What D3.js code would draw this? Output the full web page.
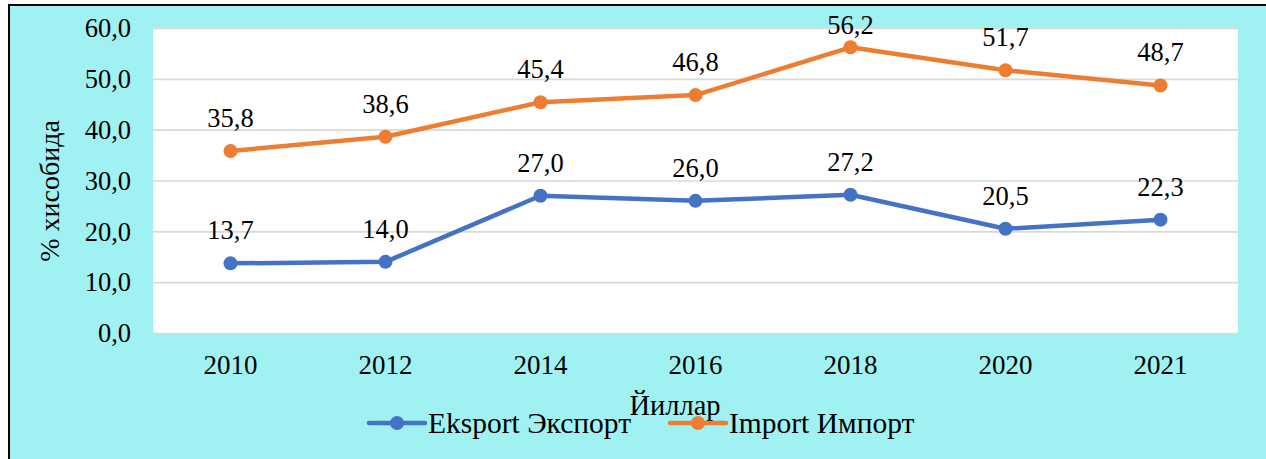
<!DOCTYPE html>
<html>
<head>
<meta charset="utf-8">
<script src="https://cdn.jsdelivr.net/npm/d3@7"></script>
<style>
  html, body { margin: 0; padding: 0; background: #fff; }
  svg { display: block; }
</style>
</head>
<body>
<div id="chart"></div>
<script>
const years = ['2010', '2012', '2014', '2016', '2018', '2020', '2021'];
const eksport = [13.7, 14.0, 27.0, 26.0, 27.2, 20.5, 22.3];
const importVals = [35.8, 38.6, 45.4, 46.8, 56.2, 51.7, 48.7];
const yTicks = [0, 10, 20, 30, 40, 50, 60];
const seriesNames = ['Eksport Экспорт', 'Import Импорт'];
const seriesColors = ['#4472C4', '#ED7D31'];

const W = 1266, H = 459;
const plot = { left: 153, right: 1238, top: 28, bottom: 333 };
const FONT = "'Liberation Serif', 'Times New Roman', serif";

const locale = d3.formatLocale({ decimal: ',', thousands: ' ', grouping: [3], currency: ['', ''] });
const fmt = locale.format('.1f');

const svg = d3.select('#chart')
    .append('svg')
    .attr('width', W)
    .attr('height', H)
    .style('font-family', FONT);

// chart frame
svg.append('rect')
    .attr('x', 9).attr('y', 5)
    .attr('width', W).attr('height', H)
    .attr('fill', '#A0F2F2')
    .attr('stroke', '#000')
    .attr('stroke-width', 2);

// plot area
svg.append('rect')
    .attr('x', plot.left).attr('y', plot.top)
    .attr('width', plot.right - plot.left)
    .attr('height', plot.bottom - plot.top)
    .attr('fill', '#fff');

const x = d3.scaleBand()
    .domain(years)
    .range([plot.left, plot.right]);

const y = d3.scaleLinear()
    .domain([0, 60])
    .range([plot.bottom, plot.top]);

// gridlines + y labels
const yAxis = svg.append('g')
    .attr('transform', `translate(${plot.left},0)`)
    .call(d3.axisLeft(y).tickValues(yTicks).tickFormat(fmt)
        .tickSize(-(plot.right - plot.left)).tickPadding(22));
yAxis.attr('font-family', null);
yAxis.select('.domain').remove();
yAxis.selectAll('line')
    .attr('stroke', '#D9D9D9')
    .attr('stroke-width', 1.6);
yAxis.selectAll('text')
    .style('font-family', FONT)
    .style('font-size', '26.5px')
    .attr('fill', '#000')
    .attr('dy', '0.33em');

// x labels
const xAxis = svg.append('g')
    .attr('transform', `translate(0,${plot.bottom})`)
    .call(d3.axisBottom(x).tickSize(0).tickPadding(22));
xAxis.attr('font-family', null);
xAxis.select('.domain').remove();
xAxis.selectAll('text')
    .style('font-family', FONT)
    .style('font-size', '27px')
    .attr('fill', '#000');

// axis titles
svg.append('text')
    .attr('transform', `translate(59,191) rotate(-90)`)
    .attr('text-anchor', 'middle')
    .style('font-family', FONT)
    .style('font-size', '28px')
    .text('% хисобида');

svg.append('text')
    .attr('x', 675).attr('y', 415)
    .attr('text-anchor', 'middle')
    .style('font-family', FONT)
    .style('font-size', '28.5px')
    .text('Йиллар');

// series
const line = d3.line()
    .x((d, i) => x(years[i]) + x.bandwidth() / 2)
    .y(d => y(d));

[eksport, importVals].forEach((vals, s) => {
    const g = svg.append('g');
    g.append('path')
        .datum(vals)
        .attr('d', line)
        .attr('fill', 'none')
        .attr('stroke', seriesColors[s])
        .attr('stroke-width', 4.5)
        .attr('stroke-linejoin', 'round');

    g.selectAll('circle')
        .data(vals)
        .join('circle')
        .attr('cx', (d, i) => x(years[i]) + x.bandwidth() / 2)
        .attr('cy', d => y(d))
        .attr('r', 7)
        .attr('fill', seriesColors[s]);

    // data labels, kept inside the chart area
    g.selectAll('text')
        .data(vals)
        .join('text')
        .attr('x', (d, i) => x(years[i]) + x.bandwidth() / 2)
        .attr('y', d => Math.max(y(d) - 24, 34))
        .attr('text-anchor', 'middle')
        .style('font-family', FONT)
        .style('font-size', '26.5px')
        .text(d => fmt(d));
});

// legend
const legendX = [369, 670];
seriesNames.forEach((name, s) => {
    const lg = svg.append('g').attr('transform', `translate(${legendX[s]},423)`);
    lg.append('line')
        .attr('x1', 0).attr('x2', 56)
        .attr('stroke', seriesColors[s])
        .attr('stroke-width', 4.5)
        .attr('stroke-linecap', 'round');
    lg.append('circle')
        .attr('cx', 28).attr('r', 7)
        .attr('fill', seriesColors[s]);
    lg.append('text')
        .attr('x', 59).attr('y', 10)
        .style('font-family', FONT)
        .style('font-size', '29.5px')
        .text(name);
});
</script>
</body>
</html>
